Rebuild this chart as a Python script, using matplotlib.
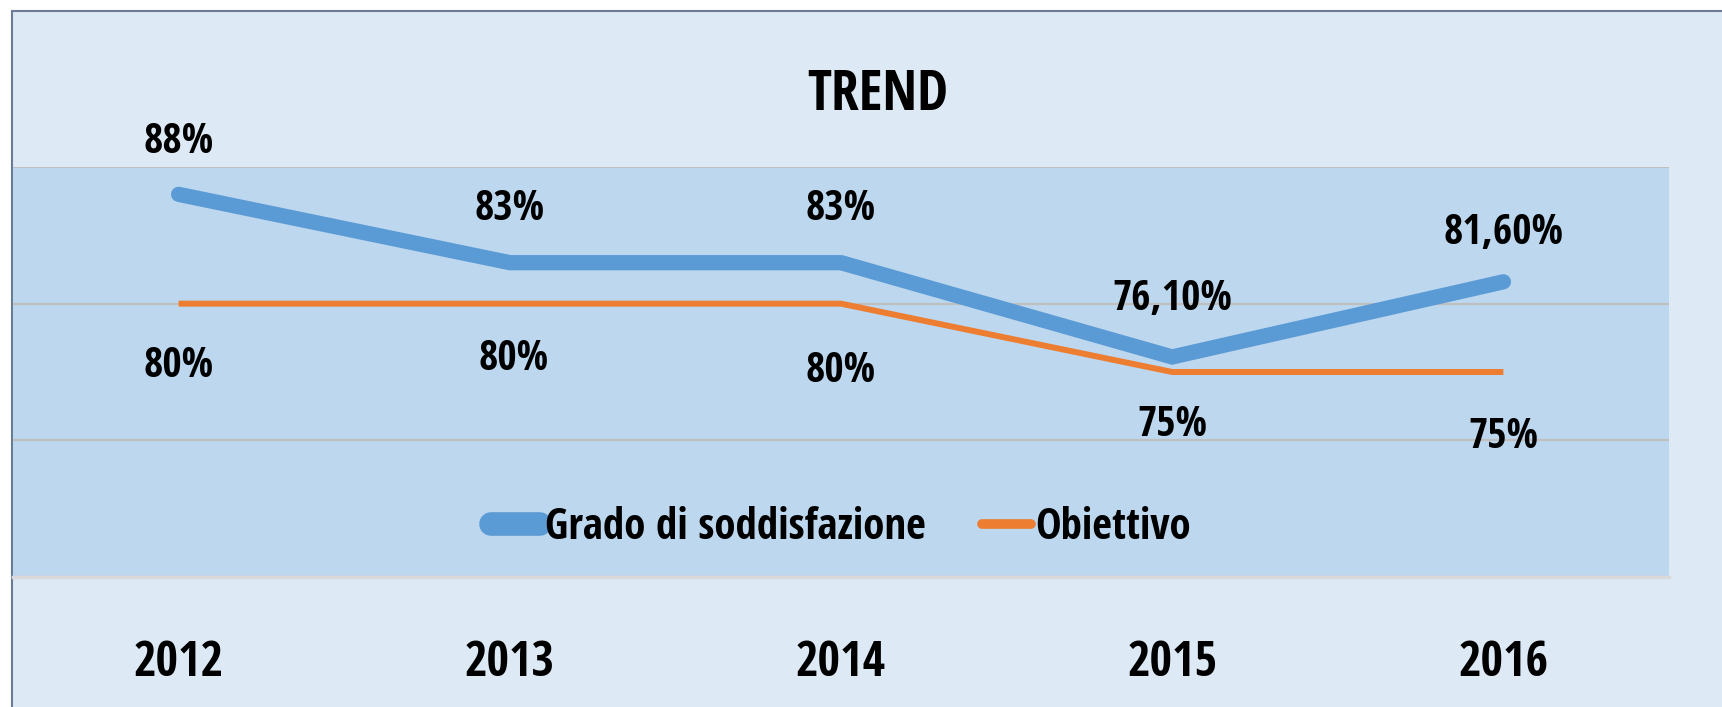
import matplotlib
matplotlib.use("Agg")
import matplotlib.pyplot as plt
from matplotlib.lines import Line2D
from matplotlib.patches import Rectangle

years = ["2012", "2013", "2014", "2015", "2016"]
grado = [88, 83, 83, 76.1, 81.6]
obiettivo = [80, 80, 80, 75, 75]
grado_labels = ["88%", "83%", "83%", "76,10%", "81,60%"]
obiettivo_labels = ["80%", "80%", "80%", "75%", "75%"]

BLUE = "#5b9bd5"
ORANGE = "#ed7d31"
plt.rcParams["font.family"] = ["Open Sans Condensed", "DejaVu Sans"]
plt.rcParams["font.weight"] = "bold"

W, H = 1722, 707
fig = plt.figure(figsize=(W / 100, H / 100), dpi=100, facecolor="white")

# outer chart frame
fig.add_artist(Rectangle((12 / W, -0.02), 1.1, (H - 11) / H + 0.02,
                         transform=fig.transFigure, facecolor="#dde9f5",
                         edgecolor="#6b7b96", lw=1.5, zorder=0))

ax = fig.add_axes([13 / W, 130 / H, (1669 - 13) / W, 410 / H])
ax.set_facecolor("#bdd7ee")
x = list(range(len(years)))

ax.plot(x, grado, color=BLUE, lw=11, solid_capstyle="round",
        solid_joinstyle="miter", zorder=3)
ax.plot(x, obiettivo, color=ORANGE, lw=4.3, solid_capstyle="butt", zorder=3)

ax.set_xlim(-0.5, 4.5)
ax.set_ylim(60, 90)
ax.set_yticks([60, 70, 80, 90])
ax.yaxis.grid(True, color="#bfbfbf", lw=1.5, zorder=1)
ax.tick_params(axis="y", left=False, labelleft=False)
ax.set_xticks(x)
ax.set_xticklabels(years, fontsize=35, fontweight="bold")
ax.tick_params(axis="x", length=0, pad=45)
for s in ["top", "left", "right"]:
    ax.spines[s].set_visible(False)
ax.spines["bottom"].set_color("#d9d9d9")
ax.spines["bottom"].set_linewidth(2.5)

# data labels (offsets in pixels)
g_off = [(0, 52), (0, 53), (0, 53), (0, 57), (0, 48)]
o_off = [(0, -63), (4, -56), (0, -68), (0, -53), (0, -66)]
for i in x:
    ax.annotate(grado_labels[i], (i, grado[i]), xytext=(g_off[i][0] * 0.72, g_off[i][1] * 0.72),
                textcoords="offset points", ha="center", va="center",
                fontsize=30, fontweight="bold")
    ax.annotate(obiettivo_labels[i], (i, obiettivo[i]), xytext=(o_off[i][0] * 0.72, o_off[i][1] * 0.72),
                textcoords="offset points", ha="center", va="center",
                fontsize=30, fontweight="bold")

handles = [Line2D([], [], color=BLUE, lw=17, solid_capstyle="round"),
           Line2D([], [], color=ORANGE, lw=7, solid_capstyle="round")]
ax.legend(handles, ["Grado di soddisfazione", "Obiettivo"], loc="center",
          bbox_to_anchor=(0.5, 0.12), ncol=2, frameon=False,
          prop={"size": 31, "weight": "bold"}, handlelength=1.15,
          handletextpad=0.1, columnspacing=1.3)

fig.text(878 / W, 1 - 95 / H, "TREND", ha="center", va="center",
         fontsize=40, fontweight="bold")

fig.savefig("out.png", dpi=100, facecolor=fig.get_facecolor())
